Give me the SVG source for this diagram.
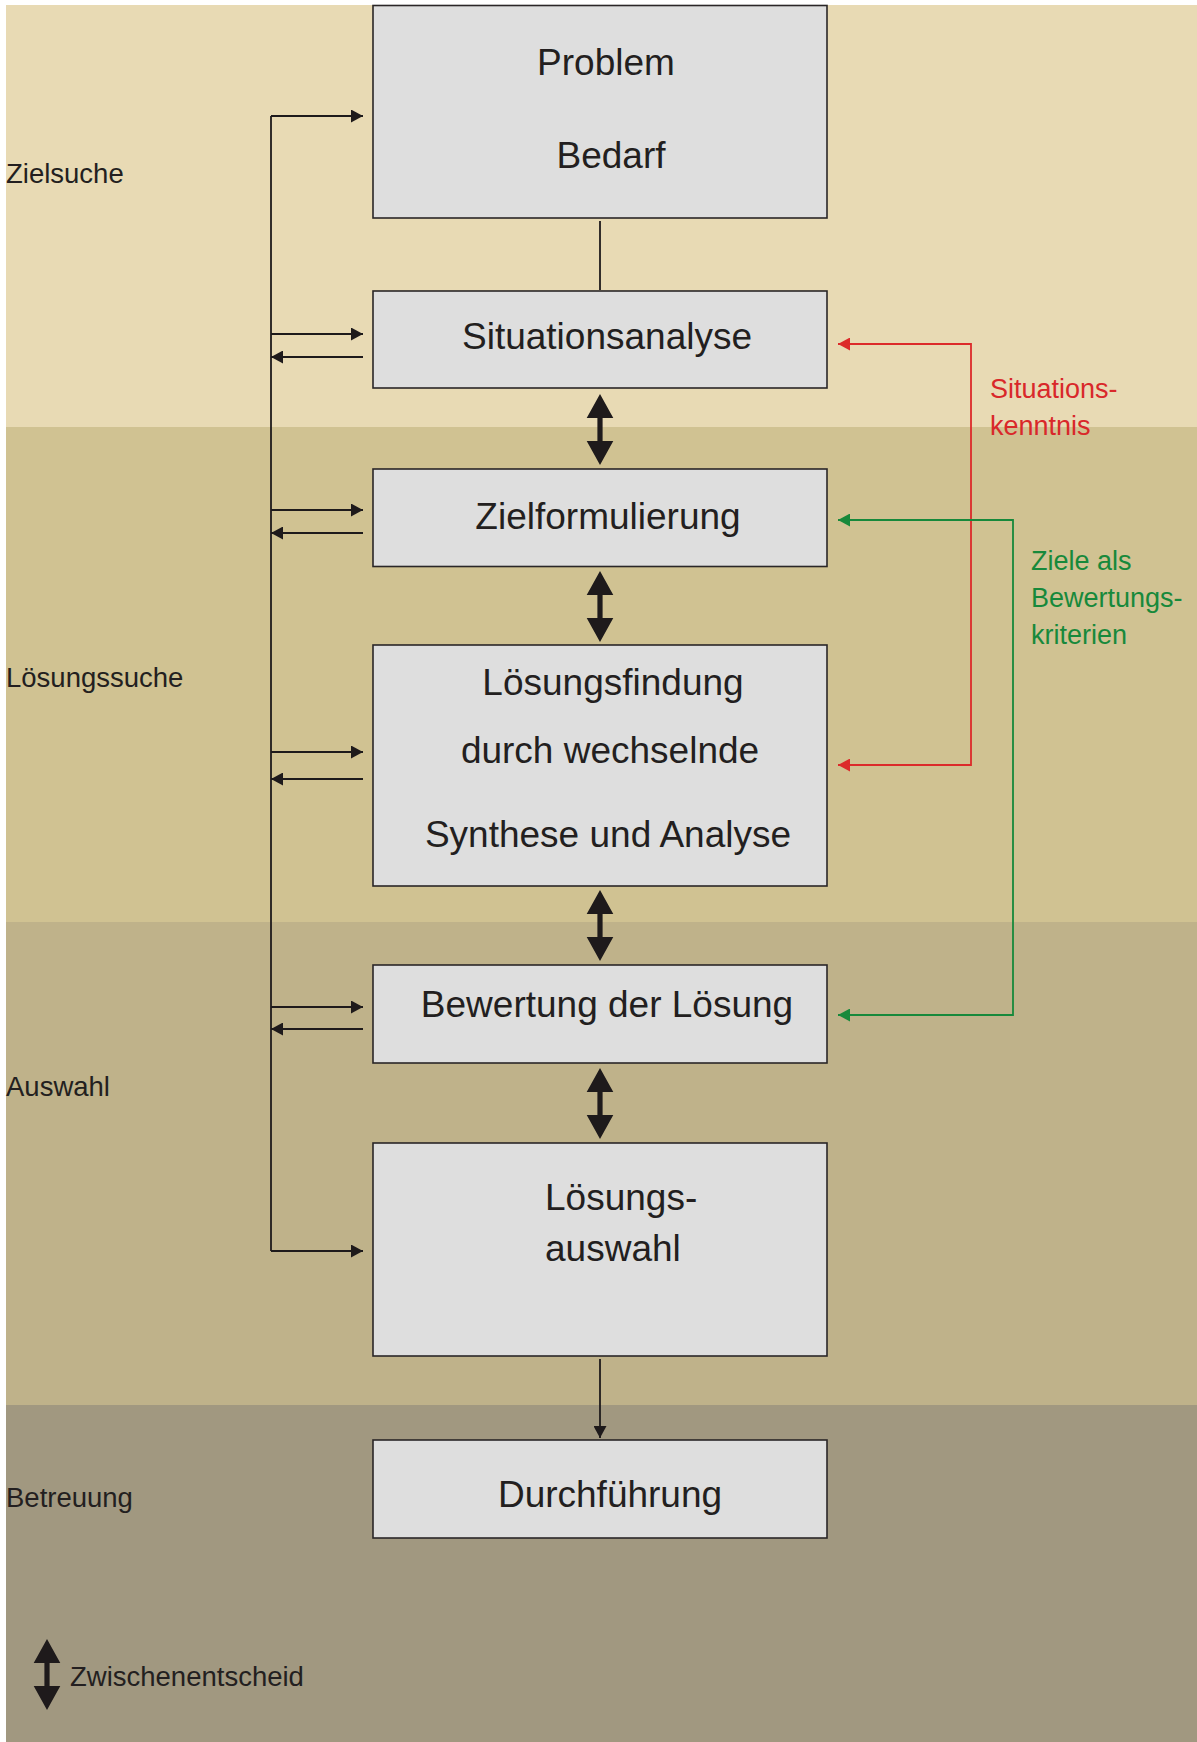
<svg xmlns="http://www.w3.org/2000/svg" width="1197" height="1742" viewBox="0 0 1197 1742">
<style>
.box{fill:#DEDEDE;stroke:#2A2627;stroke-width:1.6}
.lbl{font-family:"Liberation Sans",Arial,sans-serif;font-size:37px;fill:#231F20;text-anchor:middle}
.lbll{font-family:"Liberation Sans",Arial,sans-serif;font-size:37px;fill:#231F20}
.phase{font-family:"Liberation Sans",Arial,sans-serif;font-size:27.5px;fill:#231F20}
.red{font-family:"Liberation Sans",Arial,sans-serif;font-size:27px;fill:#D9282A}
.green{font-family:"Liberation Sans",Arial,sans-serif;font-size:27px;fill:#17893B}
.ln{fill:none;stroke:#1E1A1B;stroke-width:1.8}
.dbl{fill:#1E1A1B}
</style>
<defs>
<marker id="ah" markerWidth="12" markerHeight="13" refX="12" refY="6.5" orient="auto-start-reverse" markerUnits="userSpaceOnUse"><path d="M0,0 L12,6.5 L0,13 Z" fill="#1E1A1B"/></marker>
<marker id="ahr" markerWidth="12" markerHeight="13" refX="12" refY="6.5" orient="auto-start-reverse" markerUnits="userSpaceOnUse"><path d="M0,0 L12,6.5 L0,13 Z" fill="#DC2A2A"/></marker>
<marker id="ahg" markerWidth="12" markerHeight="13" refX="12" refY="6.5" orient="auto-start-reverse" markerUnits="userSpaceOnUse"><path d="M0,0 L12,6.5 L0,13 Z" fill="#17893B"/></marker>
<path id="dbl" d="M0,0 L13.3,24 L2.6,24 L2.6,47 L13.3,47 L0,71 L-13.3,47 L-2.6,47 L-2.6,24 L-13.3,24 Z"/>
</defs>
<rect x="0" y="0" width="1197" height="1742" fill="#FFFFFF"/>
<g id="bands">
<rect x="6" y="5" width="1191" height="422" fill="#E8DAB4"/>
<rect x="6" y="427" width="1191" height="495" fill="#D0C292"/>
<rect x="6" y="922" width="1191" height="483" fill="#BFB28A"/>
<rect x="6" y="1405" width="1191" height="337" fill="#A19880"/>
<text class="phase" x="6" y="183">Zielsuche</text>
<text class="phase" x="6" y="687">Lösungssuche</text>
<text class="phase" x="6" y="1096">Auswahl</text>
<text class="phase" x="6" y="1507">Betreuung</text>
</g>
<g id="connectors">
<line class="ln" x1="600" y1="221" x2="600" y2="290" stroke-width="2"/>
<path class="ln" d="M271,116 V1251"/>
<line class="ln" x1="271" y1="116" x2="363" y2="116" marker-end="url(#ah)"/>
<line class="ln" x1="271" y1="1251" x2="363" y2="1251" marker-end="url(#ah)"/>
<line class="ln" x1="271" y1="334" x2="363" y2="334" marker-end="url(#ah)"/>
<line class="ln" x1="363" y1="357" x2="271" y2="357" marker-end="url(#ah)"/>
<line class="ln" x1="271" y1="510" x2="363" y2="510" marker-end="url(#ah)"/>
<line class="ln" x1="363" y1="533" x2="271" y2="533" marker-end="url(#ah)"/>
<line class="ln" x1="271" y1="752" x2="363" y2="752" marker-end="url(#ah)"/>
<line class="ln" x1="363" y1="779" x2="271" y2="779" marker-end="url(#ah)"/>
<line class="ln" x1="271" y1="1007" x2="363" y2="1007" marker-end="url(#ah)"/>
<line class="ln" x1="363" y1="1029" x2="271" y2="1029" marker-end="url(#ah)"/>
<line class="ln" x1="600" y1="1359" x2="600" y2="1438" marker-end="url(#ah)"/>
<path d="M838,344 H971 V765 H838" fill="none" stroke="#DC2A2A" stroke-width="1.8" marker-start="url(#ahr)" marker-end="url(#ahr)"/>
<path d="M838,520 H1013 V1015 H838" fill="none" stroke="#17893B" stroke-width="1.8" marker-start="url(#ahg)" marker-end="url(#ahg)"/>
<use href="#dbl" class="dbl" transform="translate(600,394)"/>
<use href="#dbl" class="dbl" transform="translate(600,571)"/>
<use href="#dbl" class="dbl" transform="translate(600,890)"/>
<use href="#dbl" class="dbl" transform="translate(600,1068)"/>
<text class="red" x="990" y="398">Situations-</text>
<text class="red" x="990" y="435">kenntnis</text>
<text class="green" x="1031" y="570">Ziele als</text>
<text class="green" x="1031" y="607">Bewertungs-</text>
<text class="green" x="1031" y="644">kriterien</text>
</g>
<g id="n-problem">
<rect class="box" x="373" y="5.5" width="454" height="212.5"/>
<text class="lbl" x="606" y="75">Problem</text>
<text class="lbl" x="611" y="168">Bedarf</text>
</g>
<g id="n-situationsanalyse">
<rect class="box" x="373" y="291" width="454" height="97"/>
<text class="lbl" x="607" y="349">Situationsanalyse</text>
</g>
<g id="n-zielformulierung">
<rect class="box" x="373" y="469" width="454" height="97.5"/>
<text class="lbl" x="608" y="529">Zielformulierung</text>
</g>
<g id="n-loesungsfindung">
<rect class="box" x="373" y="645" width="454" height="241"/>
<text class="lbl" x="613" y="695">Lösungsfindung</text>
<text class="lbl" x="610" y="763">durch wechselnde</text>
<text class="lbl" x="608" y="847">Synthese und Analyse</text>
</g>
<g id="n-bewertung">
<rect class="box" x="373" y="965" width="454" height="98"/>
<text class="lbl" x="607" y="1017">Bewertung der Lösung</text>
</g>
<g id="n-loesungsauswahl">
<rect class="box" x="373" y="1143" width="454" height="213"/>
<text class="lbll" x="545" y="1210">Lösungs-</text>
<text class="lbll" x="545" y="1261">auswahl</text>
</g>
<g id="n-durchfuehrung">
<rect class="box" x="373" y="1440" width="454" height="98"/>
<text class="lbl" x="610" y="1507">Durchführung</text>
</g>
<g id="legend">
<use href="#dbl" class="dbl" transform="translate(47,1639)"/>
<text class="phase" x="70" y="1686">Zwischenentscheid</text>
</g>
</svg>
